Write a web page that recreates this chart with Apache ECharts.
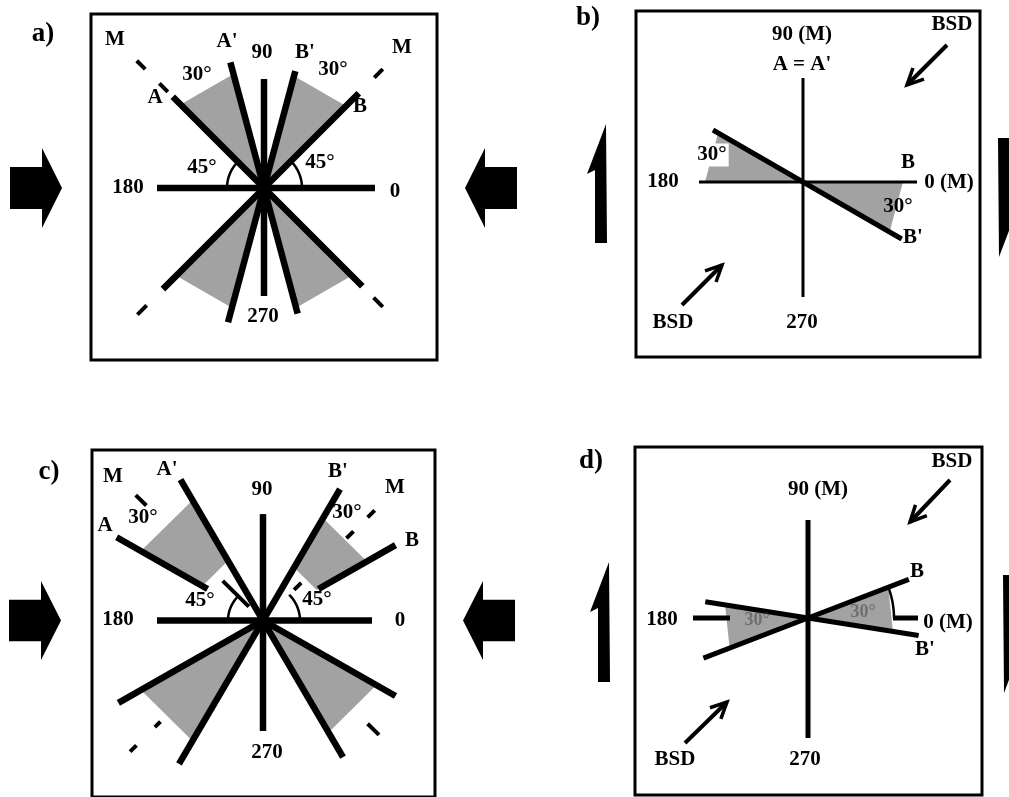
<!DOCTYPE html>
<html><head><meta charset="utf-8">
<script src="https://cdn.jsdelivr.net/npm/echarts@6/dist/echarts.min.js"></script>
<style>html,body{margin:0;padding:0;background:#fff}#c{width:1009px;height:797px}</style>
</head><body><div id="c"></div>
<script>
// ---------- DATA (angles in degrees, radii in diagram units) ----------
// segments: [angle, rStart, rEnd]
const aLines   = [[0,0,111],[180,0,107],[90,0,109],[270,0,108],[45,0,134],[225,0,143],[135,0,129],[315,0,139],[105,0,130],[285,0,130],[75,0,121],[255,0,139]];
const aDashes  = [[135,136,148],[135,168,180],[45,156,168],[225,166,179],[315,155,168]];
const aArcs    = [[0,45,38],[135,180,37]];          // [fromAngle, toAngle, radius]
const aWedges  = [[45,75,0,116],[105,135,0,118],[225,255,0,124],[285,315,0,124]]; // [a1,a2,rIn,rOut]
const aTexts   = [[-149,148,'M'],[-37,146,"A'"],[-2,135,'90'],[41,135,"B'"],[138,140,'M'],
                  [-67,113,'30°'],[69,118,'30°'],[-109,90,'A'],[96,81,'B'],[-62,20,'45°'],[56,25,'45°'],
                  [-136,0,'180'],[131,-4,'0'],[-1,-129,'270']];
const aTitle   = [[-221,154,'a)']];
const aBigArrows = [[-202,0,1],[201,0,-1]];        // [tipX, y, direction]

const bThin    = [[0,0,114],[180,0,104],[90,0,104],[270,0,115]];
const bLines   = [[150,0,104],[330,0,114]];
const bWedges  = [[150,180,0,98],[330,360,0,100]];
const bTexts   = [[-1,147,'90 (M)'],[-1,117,"A = A'"],[149,157,'BSD'],[105,19,'B'],[-140,0,'180'],
                  [146,-1,'0 (M)'],[95,-25,'30°'],[110,-56,"B'"],[-130,-141,'BSD'],[-1,-141,'270']];
const bBoxed   = [[-91,27,'30°']];
const bTitle   = [[-215,164,'b)']];
const bBsd     = [[144,137,104,97],[-121,-123,-81,-83]];   // [x1,y1,x2,y2]
const bSideArrows = [[-202,58,-61,1],[201,44,-75,-1]];      // [xCenter, yTop, yBottom, dir]

const cLines   = [[0,0,109],[180,0,106],[90,0,108],[270,0,112],[150,64,169],[330,0,153],[120,0,165],[300,0,160],
                  [60,0,154],[240,0,168],[30,64,153],[210,0,167]];
const cDashes  = [[135,165,180],[135,20,57],[45,44,54],[45,118,128],[45,148,158],[225,145,153],[225,179,188],[315,148,164]];
const cArcs    = [[135,180,35],[0,45,37]];
const cWedges  = [[120,150,70,141],[30,60,62,120],[210,240,0,141],[300,330,0,131]];
const cTexts   = [[-150,146,'M'],[-96,153,"A'"],[-1,133,'90'],[75,151,"B'"],[132,135,'M'],[-120,104,'30°'],
                  [-158,96,'A'],[84,110,'30°'],[149,81,'B'],[-63,20,'45°'],[54,21,'45°'],[-145,1,'180'],[137,0,'0'],[4,-134,'270']];
const cTitle   = [[-214,151,'c)']];
const cBigArrows = [[-202,0,1],[200,0,-1]];

const dLines   = [[90,0,98],[270,0,120],[0,85,110],[180,78,115],[21,0,108],[201,0,112],[351,0,112],[171,0,104]];
const dArcs    = [[0,21,86]];
const dWedges  = [[-9,21,0,86],[171,201,0,84]];
const dTexts   = [[144,156,'BSD'],[10,128,'90 (M)'],[109,46,'B'],[-146,-2,'180'],[140,-5,'0 (M)'],[117,-32,"B'"],
                  [-133,-142,'BSD'],[-3,-142,'270']];
const dGhosts  = [[-51,-2,'30°'],[55,6,'30°']];
const dTitle   = [[-217,157,'d)']];
const dBsd     = [[142,138,102,96],[-123,-125,-81,-84]];
const dSideArrows = [[-204,56,-64,1],[201,43,-75,-1]];

// ---------- LAYOUT ----------
const layouts = [
  {left:91,  top:14,  width:346, height:346, cx:264, cy:188},
  {left:636, top:11,  width:344, height:346, cx:803, cy:182},
  {left:92,  top:450, width:343, height:352, cx:263, cy:623},
  {left:635, top:447, width:347, height:348, cx:808, cy:618}
];
const panels = [
  {thick:aLines, thickW:6.5, dashes:aDashes, arcs:aArcs, wedges:aWedges, texts:aTexts, title:aTitle, big:aBigArrows},
  {thin:bThin, thick:bLines, thickW:5, wedges:bWedges, texts:bTexts, boxed:bBoxed, title:bTitle, bsd:bBsd, side:bSideArrows},
  {thick:cLines, thickW:6.5, dashes:cDashes, arcs:cArcs, wedges:cWedges, texts:cTexts, title:cTitle, big:cBigArrows},
  {thick:dLines, thickW:5, arcs:dArcs, wedges:dWedges, texts:dTexts, ghosts:dGhosts, title:dTitle, bsd:dBsd, side:dSideArrows}
];

const SHADE = '#a2a2a2';
const FONT = 'bold 21px "Liberation Serif", "DejaVu Serif", serif';
const TFONT = 'bold 27px "Liberation Serif", "DejaVu Serif", serif';

function P(a, r){ const t = a*Math.PI/180; return [r*Math.cos(t), r*Math.sin(t)]; }

const grids = [], xAxes = [], yAxes = [], series = [];
layouts.forEach((L, i) => {
  grids.push({left:L.left, top:L.top, width:L.width, height:L.height, show:true,
              borderColor:'#000', borderWidth:3, backgroundColor:'transparent'});
  xAxes.push({type:'value', gridIndex:i, min:L.left-L.cx, max:L.left+L.width-L.cx, show:false});
  yAxes.push({type:'value', gridIndex:i, min:L.cy-(L.top+L.height), max:L.cy-L.top, show:false});
});

function base(i, arr, z, render){
  return {type:'custom', xAxisIndex:i, yAxisIndex:i, clip:false, silent:true, z:z,
          data: arr.map(d => [d[0], d[1]]), renderItem: (params, api) => render(arr[params.dataIndex], api)};
}
function segSeries(i, arr, w, z){
  return base(i, arr, z, (d, api) => {
    const p0 = api.coord(P(d[0], d[1])), p1 = api.coord(P(d[0], d[2]));
    return {type:'line', shape:{x1:p0[0], y1:p0[1], x2:p1[0], y2:p1[1]},
            style:{stroke:'#000', lineWidth:w, lineCap:'butt'}};
  });
}

panels.forEach((p, i) => {
  if (p.wedges) series.push(base(i, p.wedges, 1, (d, api) => {
    const pts = d[2] > 0
      ? [P(d[0],d[2]), P(d[0],d[3]), P(d[1],d[3]), P(d[1],d[2])]
      : [[0,0], P(d[0],d[3]), P(d[1],d[3])];
    return {type:'polygon', shape:{points: pts.map(q => api.coord(q))}, style:{fill: SHADE}};
  }));
  if (p.thin) series.push(segSeries(i, p.thin, 3, 2));
  if (p.thick) series.push(segSeries(i, p.thick, p.thickW, 3));
  if (p.dashes) series.push(segSeries(i, p.dashes, 4, 3));
  if (p.arcs) series.push(base(i, p.arcs, 3, (d, api) => {
    const pts = [];
    for (let a = d[0]; a <= d[1] + 0.01; a += 3) pts.push(api.coord(P(a, d[2])));
    return {type:'polyline', shape:{points: pts}, style:{stroke:'#000', lineWidth:2.5, fill:null}};
  }));
  if (p.big) series.push(base(i, p.big, 3, (d, api) => {
    const t = d[0], y = d[1], s = d[2];
    const pts = [[t,y],[t-s*20,y+40],[t-s*20,y+21],[t-s*52,y+21],[t-s*52,y-21],[t-s*20,y-21],[t-s*20,y-40]];
    return {type:'polygon', shape:{points: pts.map(q => api.coord(q))}, style:{fill:'#000'}};
  }));
  if (p.side) series.push(base(i, p.side, 3, (d, api) => {
    const x = d[0], top = d[1], bot = d[2];
    const pts = d[3] > 0
      ? [[x+5,top],[x+6,bot],[x-6,bot],[x-6,top-46],[x-14,top-50]]
      : [[x-5,bot],[x-6,top],[x+6,top],[x+6,bot+46],[x+14,bot+50]];
    return {type:'polygon', shape:{points: pts.map(q => api.coord(q))}, style:{fill:'#000'}};
  }));
  if (p.bsd) series.push(base(i, p.bsd, 3, (d, api) => {
    const s = api.coord([d[0], d[1]]), e = api.coord([d[2], d[3]]);
    const ang = Math.atan2(s[1]-e[1], s[0]-e[0]);
    const L = 18, da = 0.45;
    const h1 = [e[0]+L*Math.cos(ang+da), e[1]+L*Math.sin(ang+da)];
    const h2 = [e[0]+L*Math.cos(ang-da), e[1]+L*Math.sin(ang-da)];
    return {type:'group', children:[
      {type:'line', shape:{x1:s[0],y1:s[1],x2:e[0],y2:e[1]}, style:{stroke:'#000', lineWidth:4}},
      {type:'polyline', shape:{points:[h1, e, h2]}, style:{stroke:'#000', lineWidth:3.5, fill:null}}
    ]};
  }));
  const textRender = (font, fill, bg) => (d, api) => {
    const c = api.coord([d[0], d[1]]);
    const st = {text:d[2], font:font, fill:fill, align:'center', verticalAlign:'middle'};
    if (bg) { st.backgroundColor = '#fff'; st.padding = [1,2,1,2]; }
    return {type:'text', x:c[0], y:c[1], style: st};
  };
  if (p.texts) series.push(base(i, p.texts, 5, textRender(FONT, '#000')));
  if (p.boxed) series.push(base(i, p.boxed, 5, textRender(FONT, '#000', true)));
  if (p.ghosts) series.push(base(i, p.ghosts, 5, textRender('bold 18px "Liberation Serif", serif', 'rgba(60,60,60,0.5)')));
  if (p.title) series.push(base(i, p.title, 5, textRender(TFONT, '#000')));
});

const chart = echarts.init(document.getElementById('c'));
chart.setOption({animation:false, backgroundColor:'#fff', grid:grids, xAxis:xAxes, yAxis:yAxes, series:series});
</script></body></html>
